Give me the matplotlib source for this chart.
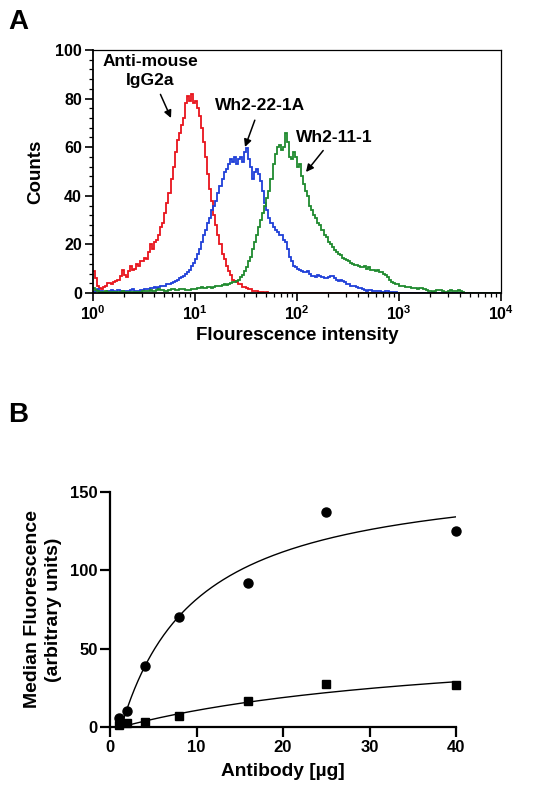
import numpy as np
import matplotlib
matplotlib.use("Agg")
import matplotlib.pyplot as plt
from matplotlib.ticker import FixedLocator, NullFormatter, MultipleLocator

plt.rcParams['font.family'] = ['Liberation Sans', 'DejaVu Sans']
plt.rcParams['font.weight'] = 'bold'
plt.rcParams['mathtext.fontset'] = 'custom'
plt.rcParams['mathtext.rm'] = 'Liberation Sans:bold'
plt.rcParams['mathtext.bf'] = 'Liberation Sans:bold'

# ---------------- Panel A data: flow cytometry histograms ----------------
# 200 channels spanning log10 intensity 0..4 (0.02 decade per channel)
log_min, log_max, n_channels = 0.0, 4.0, 200

red_counts = [9, 6, 3, 2, 1.5, 2.5, 3, 4, 4, 3.5,
              4.5, 5, 5.5, 7, 9.5, 7.5, 6.5, 9, 11, 9.5,
              10, 12, 11, 13, 13, 14.5, 14, 17, 20, 18,
              21, 22, 24, 27, 29, 33, 37, 41, 47, 52,
              58, 63, 66, 69, 72, 78, 81, 79, 82, 78,
              79, 76, 73, 68, 62, 56, 49, 43, 38, 32,
              28, 24, 20, 16, 14, 11, 9, 7.5, 5.5, 5,
              4.5, 3.5, 3.5, 2.5, 2.5, 2, 1.5, 1.5, 1, 0.8,
              0.8, 0.4, 0.3, 0.5, 0.2, 0.3, 0.1, 0.2, 0.1, 0] + [0] * 110

blue_counts = [0.5, 0.8, 1.5, 1, 1, 0.5, 0.5, 0.8, 1, 1.2,
               0.8, 0.5, 1.2, 1, 0.8, 1, 1, 0.8, 1.2, 1.5,
               0.8, 1, 1, 1.2, 1.2, 1.5, 1.5, 1.8, 2, 2.2,
               2.5, 2.2, 2.5, 3, 3, 2.8, 3.5, 3.8, 4, 4.5,
               5, 5.5, 6, 6.5, 7, 8, 8.5, 9.5, 11, 12.5,
               14, 16, 18, 21, 24, 26, 29, 31, 34, 36,
               38, 41, 44, 47, 50, 51, 53, 55, 54, 56,
               53, 55, 56, 54, 58, 59.5, 55, 52, 47, 50,
               51, 49, 46, 42, 37, 34, 31, 29, 27, 26,
               25, 24, 24, 22, 21, 18, 15, 13, 11, 10.5,
               10, 9.5, 9, 8.5, 8.5, 9, 8, 7, 7, 6.5,
               7.5, 7, 6.5, 6, 6, 6.5, 7, 7, 6, 5.5,
               5, 5.5, 5, 4.5, 3.5, 3.5, 3, 3, 3, 2.5,
               2, 2, 1.5, 1.2, 1, 1.2, 1.2, 0.8, 0.8, 1,
               1, 0.6, 0.6, 0.8, 0.8, 0.4, 0.5, 0.3, 0.3, 0.2] + [0] * 50

green_counts = [2, 1.2, 0.8, 0.6, 0.5, 0.4, 0.8, 0.6, 0.5, 0.4,
                0.3, 0.4, 0.5, 0.4, 0.8, 0.6, 0.5, 0.4, 0.3, 0.4,
                0.5, 0.6, 0.5, 0.5, 0.8, 0.8, 1, 0.8, 1.2, 1,
                1, 1.2, 1.5, 1.4, 1.2, 1, 1, 1.2, 1.5, 1.6,
                1.2, 1.4, 1.8, 1.6, 1.5, 1.3, 1.2, 1.1, 1.5, 1.6,
                1.8, 2, 2.2, 2.4, 2, 2.2, 2.5, 2.6, 2.2, 2.5,
                2.8, 2.8, 3, 3.2, 3.5, 3.4, 3.5, 4, 4.5, 4.5,
                5, 5.5, 6.5, 7.5, 9, 10.5, 13, 15, 18, 21,
                24, 27, 30, 33, 36, 39, 42, 47, 53, 57,
                60, 61, 59, 60, 66, 62, 56, 55, 58, 56,
                52, 53, 48, 45, 42, 40, 36, 34, 32, 31,
                29, 28, 26, 24, 23, 21, 20, 19, 17.5, 17,
                16, 15.5, 14.5, 14, 13.5, 13, 12.3, 12, 11.5, 11.5,
                11, 10.5, 10.5, 11, 10, 10.5, 9.5, 9.5, 9, 9.5,
                8.5, 8.5, 8, 7.5, 6.5, 5.5, 4.5, 4, 3.5, 3.5,
                3, 3, 2.8, 2.6, 2.5, 2.5, 2, 2.2, 2, 1.8,
                2.2, 2, 1.8, 1.4, 1, 0.8, 0.6, 0.8, 1.2, 1.3,
                1.3, 1, 0.5, 0.6, 1, 1.2, 1, 1, 1, 1.1,
                0.8, 0.6, 0.2, 0.2] + [0] * 16

hist_colors = ['#e8141c', '#1f3fd8', '#1f8a2e']

# ---------------- Panel B data: titration ----------------
antibody_ug = [1, 2, 4, 8, 16, 25, 40]
wh2_circles = [6, 10, 39, 70, 92, 137, 125]
wh2_squares = [1, 2.3, 3, 6.8, 16.5, 27.5, 27]
# fitted saturation curves: Bmax * (x - x0) / (K + (x - x0))
fit_circles = dict(bmax=165.0, k=8.9, x0=1.3)
fit_squares = dict(bmax=58.0, k=39.0, x0=1.3)

W, H = 534, 789
fig = plt.figure(figsize=(W / 100, H / 100), dpi=100)


def fp(x, y_top):
    """figure pixel coordinates from a top-left measured position"""
    return (x, H - y_top)


# ---------------- Panel A ----------------
axA = fig.add_axes([93 / W, 1 - 293 / H, (501 - 93) / W, (293 - 50) / H])
edges = 10 ** np.linspace(log_min, log_max, n_channels + 1)
for counts, col in zip([red_counts, blue_counts, green_counts], hist_colors):
    axA.stairs(counts, edges, color=col, lw=1.3, baseline=None)
axA.set_xscale('log')
axA.set_xlim(1, 1e4)
axA.set_ylim(0, 100)
axA.set_yticks([0, 20, 40, 60, 80, 100])
axA.yaxis.set_minor_locator(MultipleLocator(4))
axA.set_xticks([1, 10, 100, 1000, 10000])
axA.set_xticklabels([r'$\mathbf{10^{%d}}$' % i for i in range(5)])
minors = [m * 10 ** d for d in range(4) for m in range(2, 10)]
axA.xaxis.set_minor_locator(FixedLocator(minors))
axA.xaxis.set_minor_formatter(NullFormatter())
axA.tick_params(which='major', direction='out', length=6, width=1.2, labelsize=11.5, pad=2)
axA.tick_params(which='minor', direction='out', length=3, width=0.9)
for lab in axA.get_yticklabels():
    lab.set_fontweight('bold')
for s in ['left', 'bottom']:
    axA.spines[s].set_linewidth(1.3)
for s in ['top', 'right']:
    axA.spines[s].set_linewidth(0.9)
axA.set_ylabel('Counts', fontsize=13.5, fontweight='bold', labelpad=8)
axA.set_xlabel('Flourescence intensity', fontsize=13.5, fontweight='bold', labelpad=3)

annot_kw = dict(fontsize=12.5, fontweight='bold', ha='center', va='center',
                xycoords='figure pixels', textcoords='figure pixels')
arrow_kw = dict(arrowstyle='-|>', color='black', lw=1.1, mutation_scale=11, shrinkA=3, shrinkB=0)
axA.annotate('Anti-mouse\nIgG2a', xy=fp(171, 118), xytext=fp(150, 71),
             linespacing=1.3, arrowprops=arrow_kw, **annot_kw)
axA.annotate('Wh2-22-1A', xy=fp(245, 147), xytext=fp(260, 106),
             arrowprops=arrow_kw, **annot_kw)
axA.annotate('Wh2-11-1', xy=fp(306, 172), xytext=fp(334, 137),
             arrowprops=arrow_kw, **annot_kw)

# ---------------- Panel B ----------------
axB = fig.add_axes([110 / W, 1 - 727 / H, (456 - 110) / W, (727 - 492) / H])
for p in (fit_circles, fit_squares):
    xx = np.linspace(p['x0'], max(antibody_ug), 300)
    yy = p['bmax'] * (xx - p['x0']) / (p['k'] + (xx - p['x0']))
    axB.plot(xx, yy, color='black', lw=1.0)
axB.plot(antibody_ug, wh2_circles, 'o', color='black', ms=6.5, clip_on=False)
axB.plot(antibody_ug, wh2_squares, 's', color='black', ms=6, clip_on=False)
axB.set_xlim(0, 40)
axB.set_ylim(0, 150)
axB.set_xticks([0, 10, 20, 30, 40])
axB.set_yticks([0, 50, 100, 150])
axB.spines['top'].set_visible(False)
axB.spines['right'].set_visible(False)
for s in ['left', 'bottom']:
    axB.spines[s].set_linewidth(1.6)
axB.tick_params(direction='out', length=7, width=1.6, labelsize=12, pad=2)
for lab in axB.get_xticklabels() + axB.get_yticklabels():
    lab.set_fontweight('bold')
axB.set_xlabel('Antibody [µg]', fontsize=13.8, fontweight='bold', labelpad=6)
axB.set_ylabel('Median Fluorescence\n(arbitrary units)', fontsize=14,
               fontweight='bold', labelpad=6, linespacing=1.3)

fig.text(8 / W, 1 - 29 / H, 'A', fontsize=20, fontweight='bold', va='baseline')
fig.text(8 / W, 1 - 422 / H, 'B', fontsize=20, fontweight='bold', va='baseline')

fig.savefig('out.png', dpi=100, facecolor='white')
